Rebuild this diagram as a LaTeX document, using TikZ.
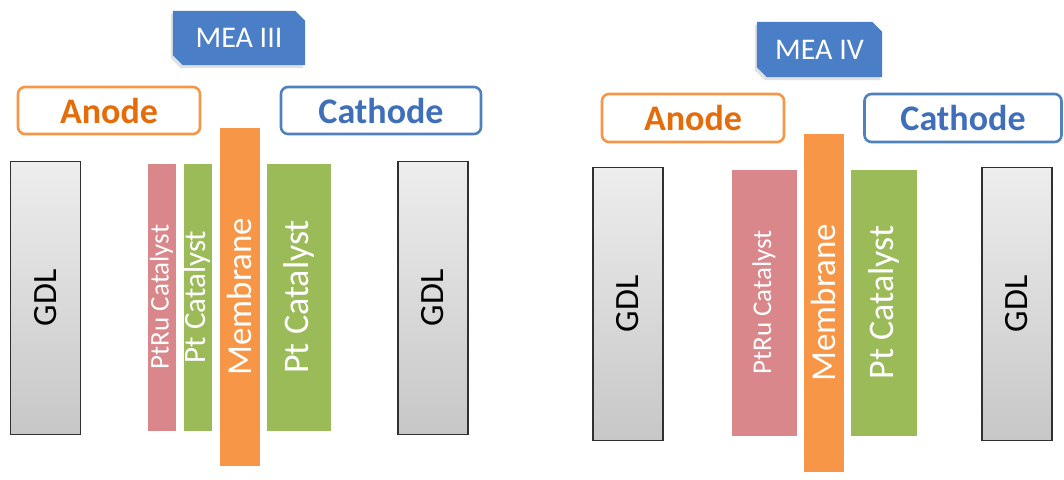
\documentclass[tikz,border=0pt]{standalone}
\usepackage{fontspec}
\setmainfont{Carlito}
\usetikzlibrary{backgrounds}
\definecolor{memor}{HTML}{F79646}
\definecolor{ptrupink}{HTML}{D9878A}
\definecolor{ptgreen}{HTML}{9BBB59}
\definecolor{meablue}{HTML}{4A7EC7}
\definecolor{anodetxt}{HTML}{E46C0A}
\definecolor{cathtxt}{HTML}{3F6FBA}
\definecolor{cathline}{HTML}{4F81BD}
\definecolor{gdlline}{HTML}{303030}
\tikzset{
  layer/.style={rotate=90, inner sep=0pt, text=white, draw=white, line width=1pt},
  gdlbox/.style={rotate=90, inner sep=0pt, draw=gdlline, line width=1.2pt,
     top color=white!93!black, bottom color=white!78!black, text=black,
     minimum width=273pt, minimum height=70pt, font=\fontsize{34}{38}\selectfont},
  membar/.style={layer, fill=memor, minimum width=339pt, minimum height=41pt, font=\fontsize{35}{38}\selectfont},
  sidebox/.style={rounded corners=7pt, line width=2.6pt, fill=white, inner sep=0pt,
     font=\bfseries\fontsize{36}{40}\selectfont},
  anodebox/.style={sidebox, draw=memor, text=anodetxt},
  cathbox/.style={sidebox, draw=cathline, text=cathtxt},
  meabox/.style={inner sep=0pt, text=white, font=\fontsize{30}{34}\selectfont},
}
\newcommand{\meashape}[1]{%
  \begin{scope}[on background layer]
  \fill[black, opacity=0.12] ([xshift=-2pt,yshift=-3pt]#1.north west) -- ([xshift=-12pt,yshift=-3pt]#1.north east) -- ([xshift=-2pt,yshift=-13pt]#1.north east) -- ([xshift=-2pt,yshift=-3pt]#1.south east) -- ([xshift=8pt,yshift=-3pt]#1.south west) -- ([xshift=-2pt,yshift=7pt]#1.south west) -- cycle;
  \fill[meablue] (#1.north west) -- ([xshift=-10pt]#1.north east) -- ([yshift=-10pt]#1.north east) -- (#1.south east) -- ([xshift=10pt]#1.south west) -- ([yshift=10pt]#1.south west) -- cycle;
  \end{scope}}
\begin{document}
\begin{tikzpicture}[x=1pt, y=-1pt]
\useasboundingbox (0,0) rectangle (1064,479);
% ---------- MEA III ----------
\node[meabox, minimum width=132pt, minimum height=54pt] (mea3) at (239,38) {MEA III};
\meashape{mea3}
\node[anodebox, minimum width=182pt, minimum height=47pt] (anode1) at (109,110.5) {Anode};
\node[cathbox, minimum width=200pt, minimum height=47pt] (cath1) at (381,110.5) {Cathode};
\node[gdlbox] (gdl1) at (45.5,298) {GDL};
\node[layer, fill=ptrupink, minimum width=268pt, minimum height=29pt, font=\fontsize{27}{30}\selectfont] (ptru1) at (161.5,297) {PtRu Catalyst};
\node[layer, fill=ptgreen, minimum width=268pt, minimum height=29pt, font=\fontsize{31}{34}\selectfont] (ptA1) at (197.5,297) {Pt Catalyst};
\node[membar] (mem1) at (239.5,296.5) {Membrane};
\node[layer, fill=ptgreen, minimum width=268pt, minimum height=65pt, font=\fontsize{36}{40}\selectfont] (ptB1) at (298.5,297) {Pt Catalyst};
\node[gdlbox] (gdl2) at (433,298) {GDL};
% ---------- MEA IV ----------
\node[meabox, minimum width=125pt, minimum height=55pt] (mea4) at (819.5,49.5) {MEA IV};
\meashape{mea4}
\node[anodebox, minimum width=182pt, minimum height=48pt] (anode2) at (693,118) {Anode};
\node[cathbox, minimum width=197pt, minimum height=48pt] (cath2) at (963,118) {Cathode};
\node[gdlbox] (gdl3) at (628,304) {GDL};
\node[layer, fill=ptrupink, minimum width=267pt, minimum height=66pt, font=\fontsize{27}{30}\selectfont] (ptru2) at (764,302.5) {PtRu Catalyst};
\node[membar] (mem2) at (823.5,302.5) {Membrane};
\node[layer, fill=ptgreen, minimum width=267pt, minimum height=67pt, font=\fontsize{36}{40}\selectfont] (ptB2) at (883.5,302.5) {Pt Catalyst};
\node[gdlbox] (gdl4) at (1017,304) {GDL};
\end{tikzpicture}
\end{document}
